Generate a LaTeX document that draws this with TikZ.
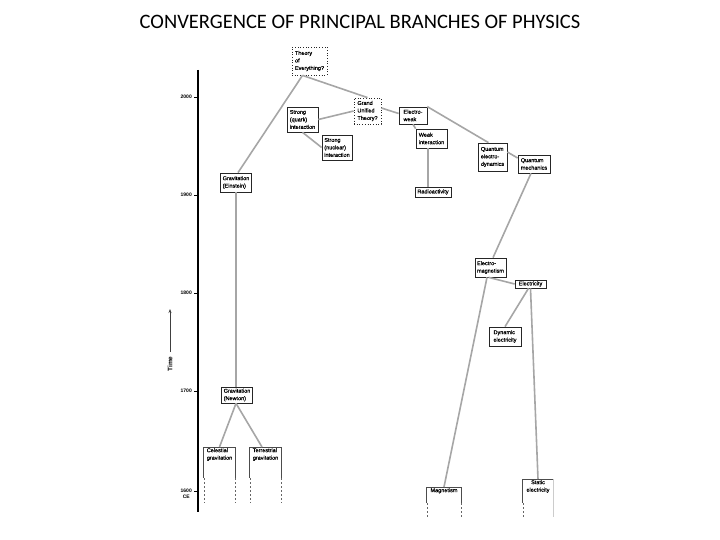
\documentclass[tikz,border=0pt]{standalone}
\usepackage{fontspec}
\setmainfont{Liberation Sans}
\newfontfamily\titlefont{Carlito}
\newfontfamily\boxfont[FakeBold=0.6]{Liberation Sans}
\usetikzlibrary{arrows.meta}
\begin{document}
\begin{tikzpicture}[x=1pt,y=-1pt,
  box/.style={draw=black!85, line width=0.7pt, fill=white, inner sep=1pt, align=left,
    font=\boxfont\fontsize{5.5}{7.5}\selectfont},
  qbox/.style={box, dotted, line width=0.8pt},
  opentext/.style={inner sep=1pt, align=left, anchor=north, minimum width=31pt,
    font=\boxfont\fontsize{5.5}{7.5}\selectfont},
  openline/.style={draw=black!70, line width=0.7pt},
  opendash/.style={draw=black!60, line width=0.6pt, dash pattern=on 2pt off 2pt},
  conn/.style={draw=black!35, line width=1.6pt},
  yearlbl/.style={font=\bfseries\fontsize{5}{5.8}\selectfont, anchor=east, inner sep=0pt, align=center},
  tick/.style={line width=0.6pt}
]
\useasboundingbox (0,0) rectangle (720,540);

% title
\node[font=\titlefont\fontsize{20.5}{22}\selectfont] (title) at (360,22) {CONVERGENCE OF PRINCIPAL BRANCHES OF PHYSICS};

% time axis
\coordinate (axtop) at (198,70);
\coordinate (axbot) at (198,512);
\draw[line width=1.2pt] (axtop) -- (axbot);
\foreach \yy/\lab/\nm in {97/2000/y2000, 195/1900/y1900, 293/1800/y1800, 391/1700/y1700}{
  \draw[tick] (194,\yy) -- (198,\yy);
  \node[yearlbl] (\nm) at (192,\yy) {\lab};
}
\draw[tick] (194,491) -- (198,491);
\node[yearlbl] (y1600) at (192,494) {1600\\CE};

% time arrow
\coordinate (tarrtail) at (170,352);
\coordinate (tarrtip) at (170,309);
\draw[line width=1pt, black!75, -{Stealth[length=4pt,width=3pt]}] (tarrtail) -- (tarrtip);
\node[rotate=90, font=\bfseries\fontsize{6.5}{7}\selectfont, inner sep=0pt] (timelbl) at (170,364) {Time};

% nodes
\node[qbox, minimum width=35pt, minimum height=28pt] (toe) at (309.5,61) {Theory\\of\\Everything?};
\node[qbox, minimum width=27pt, minimum height=26pt] (gut) at (367.5,111) {Grand\\Unified\\Theory?};
\node[box, minimum width=31pt, minimum height=25pt] (sq) at (302.5,119.5) {Strong\\(quark)\\interaction};
\node[box, minimum width=30pt, minimum height=25pt] (sn) at (337,147.5) {Strong\\(nuclear)\\interaction};
\node[box, minimum width=28pt, minimum height=17pt] (ew) at (413,115.5) {Electro-\\weak};
\node[box, minimum width=31pt, minimum height=19pt] (wi) at (431.5,138.5) {Weak\\interaction};
\node[box, minimum width=36pt, minimum height=10pt] (ra) at (433,192) {Radioactivity};
\node[box, minimum width=29pt, minimum height=28pt] (qed) at (492.5,157) {Quantum\\electro-\\dynamics};
\node[box, minimum width=32pt, minimum height=18pt] (qm) at (534,164) {Quantum\\mechanics};
\node[box, minimum width=31pt, minimum height=19pt] (ge) at (236,182.5) {Gravitation\\(Einstein)};
\node[box, minimum width=31pt, minimum height=19pt] (em) at (490.5,267.5) {Electro-\\magnetism};
\node[box, minimum width=31pt, minimum height=8pt] (el) at (530.5,284) {Electricity};
\node[box, minimum width=32pt, minimum height=19pt] (de) at (505,336.5) {Dynamic\\electricity};
\node[box, minimum width=31pt, minimum height=16pt] (gn) at (237,395) {Gravitation\\(Newton)};

% open-bottom boxes
\node[opentext] (cel) at (219.5,447) {Celestial\\gravitation};
\node[opentext] (ter) at (265.5,447) {Terrestrial\\gravitation};
\node[opentext, minimum width=34pt] (mag) at (444,487) {Magnetism};
\node[opentext, minimum width=30pt, align=center] (st) at (538,479) {Static\\electricity};

\foreach \n in {cel,ter}{
  \draw[openline] ([yshift=-31pt]\n.north west) -- (\n.north west) -- (\n.north east) -- ([yshift=-31pt]\n.north east);
  \draw[opendash] ([yshift=-31pt]\n.north west) -- ([yshift=-56pt]\n.north west);
  \draw[opendash] ([yshift=-31pt]\n.north east) -- ([yshift=-56pt]\n.north east);
}
\draw[openline] ([yshift=-16pt]mag.north west) -- (mag.north west) -- (mag.north east) -- ([yshift=-16pt]mag.north east);
\draw[opendash] ([yshift=-16pt]mag.north west) -- ([yshift=-30pt]mag.north west);
\draw[opendash] ([yshift=-16pt]mag.north east) -- ([yshift=-30pt]mag.north east);
\draw[openline] ([yshift=-24pt]st.north west) -- (st.north west) -- (st.north east);
\draw[draw=black!20, line width=0.5pt] (st.north east) -- ([yshift=-38pt]st.north east);
\draw[opendash] ([yshift=-24pt]st.north west) -- ([yshift=-38pt]st.north west);

% connectors
\draw[conn] ([xshift=-7pt]toe.south) -- ([xshift=2pt]ge.north);
\draw[conn] ([xshift=-7pt]toe.south) -- (gut.north);
\draw[conn] (sq.east) -- (gut.west);
\draw[conn] (sq.south) -- (sn.west);
\draw[conn] ([yshift=3pt]gut.east) -- ([yshift=2pt]ew.west);
\draw[conn] (ew.north east) -- ([xshift=-4pt]qed.north);
\draw[conn] (ew.south) -- (wi.north west);
\draw[conn] ([xshift=-3.5pt]wi.south) -- ([xshift=-5pt]ra.north);
\draw[conn] ([yshift=5pt]qed.east) -- ([yshift=6pt]qm.west);
\draw[conn] ([xshift=-3pt]qm.south) -- ([xshift=2.5pt]em.north);
\draw[conn] ([xshift=-3.5pt]em.south) -- (mag.north);
\draw[conn] ([xshift=-2pt]em.south) -- (el.west);
\draw[conn] ([xshift=-2pt]el.south) -- (de.north);
\draw[conn] (el.south) -- (st.north);
\draw[conn] (ge.south) -- ([xshift=-1pt]gn.north);
\draw[conn] ([xshift=-1pt]gn.south) -- (cel.north);
\draw[conn] ([xshift=-1pt]gn.south) -- ([xshift=-3.5pt]ter.north);
\end{tikzpicture}
\end{document}
